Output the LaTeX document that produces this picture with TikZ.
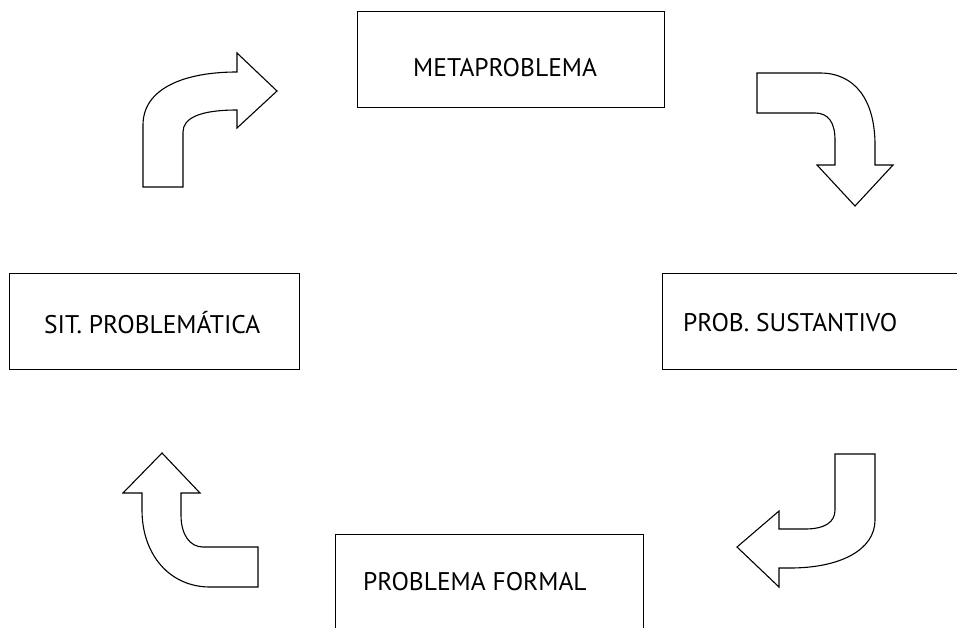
\documentclass[tikz,border=0pt]{standalone}
\usepackage{fontspec}
\setmainfont{PT Sans}
\usetikzlibrary{positioning}

\tikzset{
    procbox/.style={draw, line width=1.1pt, rectangle, inner sep=0pt},
    boxtext/.style={anchor=west, inner sep=0pt, font=\fontsize{25.5}{30}\selectfont},
    bentarrow/.style={draw, line width=1.1pt, line join=miter, fill=white}
}

\begin{document}
\begin{tikzpicture}[x=1pt, y=-1pt]
    \useasboundingbox (0,0) rectangle (957,627);
    \clip (0,0) rectangle (957,627);

    % the four stages
    \node[procbox, anchor=north west, minimum width=307pt, minimum height=96pt] (meta) at (357,11) {};
    \node[procbox, anchor=north west, minimum width=320pt, minimum height=96pt] (sust) at (662,273) {};
    \node[procbox, anchor=north west, minimum width=290pt, minimum height=96pt] (sit) at (9,273) {};
    \node[procbox, anchor=north west, minimum width=308pt, minimum height=120pt] (formal) at (335,534) {};

    \node[boxtext] (metatext) at (413,68) {METAPROBLEMA};
    \node[boxtext] (susttext) at (683,323) {PROB. SUSTANTIVO};
    \node[boxtext] (sittext) at (44,323) {SIT. PROBLEMÁTICA};
    \node[boxtext] (formaltext) at (363,582) {PROBLEMA FORMAL};

    % bent arrows between the stages
    \draw[bentarrow] (143,187) -- (143,125) .. controls (143,88) and (185,72) .. (237,72)
        -- (237,53) -- (277,91) -- (237,128) -- (237,110)
        .. controls (200,110) and (183,118) .. (183,132) -- (183,187) -- cycle;
    \draw[bentarrow] (757,73) -- (820,73) .. controls (855,73) and (875,100) .. (875,145)
        -- (875,165) -- (893,165) -- (855,206) -- (817,165) -- (835,165) -- (835,140)
        .. controls (835,122) and (828,113) .. (815,113) -- (757,113) -- cycle;
    \draw[bentarrow] (835,454) -- (875,454) -- (875,520)
        .. controls (875,550) and (840,568) .. (790,568) -- (779,568) -- (779,587)
        -- (737,547) -- (779,511) -- (779,529) -- (805,529)
        .. controls (825,529) and (835,522) .. (835,510) -- cycle;
    \draw[bentarrow] (162,453) -- (200,493) -- (181,493) -- (181,515)
        .. controls (181,535) and (190,547) .. (203,547) -- (258,547) -- (258,587)
        -- (210,587) .. controls (170,587) and (142,555) .. (142,510)
        -- (142,493) -- (123,493) -- cycle;
\end{tikzpicture}
\end{document}
